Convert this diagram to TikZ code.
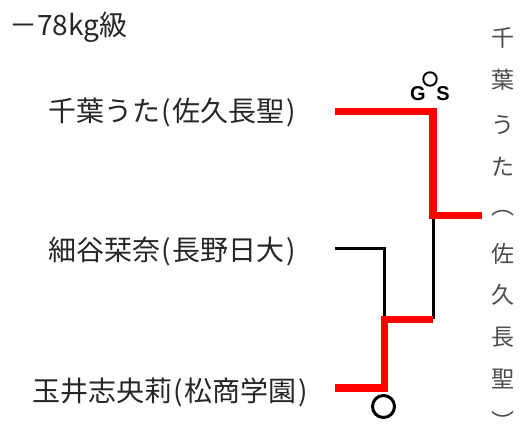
\documentclass[tikz,border=0pt]{standalone}
\usepackage{fontspec}
\setmainfont{Noto Sans CJK JP}
\newfontfamily\gsfont{Liberation Sans Bold}
\newcommand{\lpar}{\hspace{1.5pt}(\hspace{1.5pt}}
\newcommand{\rpar}{\hspace{1.5pt})}
\newcommand{\vfnt}{\fontsize{23}{26}\selectfont}
\newcommand{\gsfnt}{\gsfont\fontsize{20}{20}\selectfont}
\begin{document}
\begin{tikzpicture}[x=1pt,y=-1pt,
  lbl/.style={anchor=base east,inner sep=0pt,text=black!85,font=\fontsize{28}{32}\selectfont},
  vch/.style={anchor=center,inner sep=0pt,text=black!70},
  win/.style={draw=red,line width=7.5pt},
  los/.style={draw=black,line width=3pt},
  gsl/.style={inner sep=0pt,text=black},
  mark circ/.style={circle,draw=black,inner sep=0pt}
]
\useasboundingbox (0,0) rectangle (522,430);
\fill[white] (0,0) rectangle (522,430);

% title
\node[anchor=base west,inner sep=0pt,text=black!85,font=\fontsize{28}{32}\selectfont] (title) at (9,36) {－78kg級};

% player labels
\node[lbl] (p1) at (296,122) {千葉うた\lpar 佐久長聖\rpar};
\node[lbl] (p2) at (296,261) {細谷栞奈\lpar 長野日大\rpar};
\node[lbl] (p3) at (308,401) {玉井志央莉\lpar 松商学園\rpar};

% bracket coordinates
\coordinate (a1) at (335,111.5);
\coordinate (a2) at (433,111.5);
\coordinate (a3) at (433,215.5);
\coordinate (a4) at (482,215.5);
\coordinate (b1) at (335,249);
\coordinate (b2) at (384.5,249);
\coordinate (b3) at (384.5,319.5);
\coordinate (c1) at (335,388);
\coordinate (c2) at (384.5,388);
\coordinate (c3) at (433,319.5);

% losing lines
\draw[los] (a3) -- (c3);
\draw[los] (b1) -- (b2) -- (b3);
% winning lines
\draw[win] (a1) -- (a2) -- (a3) -- (a4);
\draw[win] (c1) -- (c2) -- (b3) -- (c3);

% marks
\node[mark circ,line width=1.9pt,minimum size=13.5pt] (gc) at (430,79) {};
\node[gsl] (g) at (418,94) {\gsfnt G};
\node[gsl] (s) at (443,94) {\gsfnt S};
\node[mark circ,line width=3pt,minimum size=22pt] (bc) at (383.5,406.5) {};

% vertical text
\foreach \ch/\yy [count=\i from 0] in {千/38,葉/80,う/125,た/167,︵/213,佐/254,久/295,長/337,聖/379,︶/421}{
  \node[vch] (v\i) at (503,\yy) {\vfnt\ch};
}
\end{tikzpicture}
\end{document}
